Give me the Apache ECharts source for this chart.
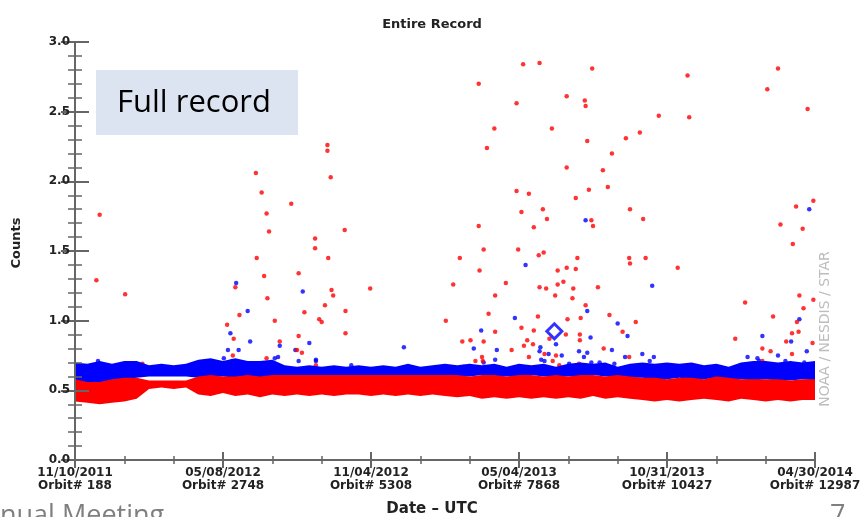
<!DOCTYPE html>
<html>
<head>
<meta charset="utf-8">
<title>Entire Record</title>
<script src="https://cdn.jsdelivr.net/npm/echarts@6/dist/echarts.min.js"></script>
<style>
  html, body { margin: 0; padding: 0; background: #fff; }
  #chart { width: 860px; height: 517px; }
</style>
</head>
<body>
<div id="chart"></div>
<script>
// x = days since 11/10/2011, ticks every 180 days
const tickDates = ["11/10/2011", "05/08/2012", "11/04/2012", "05/04/2013", "10/31/2013", "04/30/2014"];
const tickOrbits = ["188", "2748", "5308", "7868", "10427", "12987"];

// dense bands (edges read every 15 days)
const bandDays = [0, 15, 30, 45, 60, 75, 90, 105, 120, 135, 150, 165, 180, 195, 210, 225, 240, 255, 270, 285,
  300, 315, 330, 345, 360, 375, 390, 405, 420, 435, 450, 465, 480, 495, 510, 525, 540, 555, 570, 585,
  600, 615, 630, 645, 660, 675, 690, 705, 720, 735, 750, 765, 780, 795, 810, 825, 840, 855, 870, 885, 900];
const blueTop = [0.70, 0.69, 0.71, 0.69, 0.71, 0.71, 0.68, 0.69, 0.68, 0.69, 0.72, 0.73, 0.71, 0.73, 0.71, 0.71, 0.72, 0.68, 0.67, 0.68,
  0.67, 0.68, 0.67, 0.68, 0.67, 0.68, 0.67, 0.69, 0.67, 0.68, 0.69, 0.68, 0.69, 0.68, 0.69, 0.67, 0.69, 0.68, 0.69, 0.67,
  0.69, 0.70, 0.69, 0.70, 0.67, 0.69, 0.70, 0.69, 0.70, 0.69, 0.70, 0.68, 0.69, 0.67, 0.70, 0.71, 0.71, 0.70, 0.71, 0.70, 0.71];
const blueBottom = [0.57, 0.55, 0.55, 0.57, 0.58, 0.59, 0.60, 0.60, 0.60, 0.60, 0.59, 0.60, 0.60, 0.59, 0.60, 0.59, 0.60, 0.61, 0.61, 0.60,
  0.61, 0.61, 0.60, 0.61, 0.61, 0.60, 0.61, 0.61, 0.60, 0.61, 0.60, 0.60, 0.60, 0.61, 0.60, 0.60, 0.60, 0.61, 0.60, 0.60,
  0.60, 0.60, 0.61, 0.60, 0.60, 0.59, 0.59, 0.58, 0.58, 0.59, 0.58, 0.58, 0.59, 0.58, 0.58, 0.57, 0.58, 0.57, 0.57, 0.58, 0.57];
const redTop = [0.58, 0.56, 0.56, 0.58, 0.59, 0.59, 0.57, 0.57, 0.57, 0.57, 0.60, 0.61, 0.60, 0.60, 0.61, 0.60, 0.61, 0.61, 0.61, 0.61,
  0.61, 0.61, 0.61, 0.61, 0.61, 0.61, 0.61, 0.61, 0.61, 0.61, 0.61, 0.61, 0.60, 0.61, 0.61, 0.60, 0.61, 0.61, 0.60, 0.61,
  0.60, 0.61, 0.61, 0.60, 0.61, 0.60, 0.59, 0.59, 0.58, 0.59, 0.59, 0.58, 0.60, 0.59, 0.58, 0.58, 0.58, 0.58, 0.57, 0.58, 0.58];
const redBottom = [0.42, 0.41, 0.40, 0.41, 0.42, 0.44, 0.51, 0.52, 0.51, 0.52, 0.47, 0.46, 0.48, 0.46, 0.47, 0.45, 0.47, 0.46, 0.47, 0.46,
  0.47, 0.46, 0.47, 0.47, 0.46, 0.47, 0.46, 0.47, 0.46, 0.47, 0.46, 0.45, 0.46, 0.44, 0.45, 0.44, 0.45, 0.44, 0.45, 0.44,
  0.45, 0.44, 0.46, 0.44, 0.45, 0.44, 0.43, 0.42, 0.43, 0.42, 0.43, 0.44, 0.43, 0.42, 0.44, 0.43, 0.42, 0.43, 0.42, 0.43, 0.43];

// scattered outliers [day, counts]
const redPoints = [
  [30, 1.76], [220, 2.06], [227, 1.92], [263, 1.84], [233, 1.77], [236, 1.64], [307, 2.26], [307, 2.22], [311, 2.03],
  [292, 1.59], [292, 1.52], [328, 1.65], [221, 1.45], [308, 1.45],
  [491, 2.70], [545, 2.84], [565, 2.85], [629, 2.81], [745, 2.76], [855, 2.81], [842, 2.66], [537, 2.56], [598, 2.61],
  [620, 2.58], [621, 2.54], [710, 2.47], [747, 2.46], [891, 2.52], [510, 2.38], [580, 2.38], [501, 2.24], [623, 2.29],
  [670, 2.31], [687, 2.35], [653, 2.20], [598, 2.10], [642, 2.08], [537, 1.93], [552, 1.91], [648, 1.96], [625, 1.94],
  [609, 1.88], [543, 1.78], [569, 1.80], [675, 1.80], [574, 1.73], [691, 1.73], [628, 1.72], [630, 1.68], [491, 1.68],
  [558, 1.67], [877, 1.82], [898, 1.86], [858, 1.69], [885, 1.66], [873, 1.55], [497, 1.51], [539, 1.51], [570, 1.49],
  [564, 1.47], [611, 1.45], [674, 1.45], [694, 1.45], [468, 1.45],
  [26, 1.29], [61, 1.19], [195, 1.24], [230, 1.32], [234, 1.16], [272, 1.34], [185, 0.97], [193, 0.87], [200, 1.04],
  [243, 1.00], [249, 0.85], [272, 0.89], [276, 0.77], [279, 1.06], [270, 0.79], [297, 1.01], [300, 0.99], [304, 1.11],
  [312, 1.22], [314, 1.18], [329, 1.07], [329, 0.91], [359, 1.23], [192, 0.75], [233, 0.73], [293, 0.68], [82, 0.69],
  [451, 1.00],
  [492, 1.36], [587, 1.36], [598, 1.38], [609, 1.37], [524, 1.27], [460, 1.26], [565, 1.24], [573, 1.23], [587, 1.26],
  [594, 1.28], [606, 1.23], [636, 1.24], [511, 1.18], [584, 1.18], [605, 1.16], [621, 1.11], [503, 1.05], [563, 1.03],
  [615, 1.02], [599, 1.01], [650, 1.04], [543, 0.95], [558, 0.93], [511, 0.92], [597, 0.90], [614, 0.90], [614, 0.86],
  [471, 0.85], [481, 0.86], [497, 0.85], [550, 0.86], [546, 0.82], [557, 0.83], [577, 0.87], [531, 0.79], [666, 0.92],
  [643, 0.80], [495, 0.74], [487, 0.71], [496, 0.71], [552, 0.74], [571, 0.76], [585, 0.75], [581, 0.71], [589, 0.68],
  [553, 0.66], [613, 0.69],
  [733, 1.38], [682, 0.99], [674, 0.74], [675, 1.41], [815, 1.13], [803, 0.87], [849, 1.03], [836, 0.80], [846, 0.78],
  [836, 0.71], [881, 1.18], [886, 1.09], [898, 1.15], [878, 0.99], [872, 0.91], [880, 0.92], [865, 0.85], [872, 0.76],
  [897, 0.84]
];
const bluePoints = [
  [621, 1.72], [893, 1.80], [28, 0.71], [196, 1.27], [210, 1.07], [213, 0.85], [189, 0.91], [186, 0.79], [199, 0.79],
  [181, 0.73], [191, 0.71], [277, 1.21], [249, 0.82], [247, 0.74], [243, 0.73], [268, 0.79], [285, 0.84], [293, 0.72],
  [293, 0.71], [272, 0.71], [400, 0.81], [336, 0.68],
  [548, 1.40], [535, 1.02], [623, 1.07], [660, 0.98], [494, 0.93], [672, 0.89], [627, 0.88], [585, 0.83], [485, 0.80],
  [513, 0.79], [566, 0.81], [565, 0.78], [613, 0.78], [623, 0.77], [653, 0.79], [669, 0.74], [592, 0.75], [576, 0.76],
  [619, 0.74], [511, 0.72], [567, 0.72], [571, 0.71], [601, 0.69], [628, 0.70], [638, 0.70], [656, 0.69], [473, 0.67],
  [497, 0.70],
  [702, 1.25], [690, 0.76], [699, 0.71], [704, 0.74], [818, 0.74], [830, 0.73], [832, 0.71], [836, 0.89], [855, 0.75],
  [864, 0.71], [871, 0.85], [881, 1.01], [890, 0.78], [887, 0.70]
];
const markedPoint = [[583, 0.924]];

const chart = echarts.init(document.getElementById("chart"));

const AX = "#666";
const labelFont = { fontFamily: "DejaVu Sans", fontWeight: "bold", fontSize: 12, color: "#222" };

// each band edge is an area filled down to the axis; later layers paint over earlier ones
const edge = (vals) => bandDays.map((d, i) => [d, vals[i]]);
const layer = (vals, color) => ({
  type: "line", data: edge(vals), symbol: "none", silent: true,
  lineStyle: { width: 0, opacity: 0 },
  areaStyle: { color: color, opacity: 1, origin: "start" }
});

const xAxisBase = {
  type: "value", min: 0, max: 900, interval: 180, z: 10,
  axisLine: { lineStyle: { color: AX, width: 2 } },
  axisTick: { inside: true, length: 8, lineStyle: { color: AX, width: 2 } },
  minorTick: { show: true, splitNumber: 3, length: 4, lineStyle: { color: AX, width: 1.5 } },
  splitLine: { show: false },
  minorSplitLine: { show: false }
};
const yAxisBase = {
  type: "value", min: 0, max: 3, interval: 0.5, z: 10,
  axisLine: { show: true, lineStyle: { color: AX, width: 2 } },
  axisTick: { show: true, inside: true, length: 14, lineStyle: { color: AX, width: 2 } },
  minorTick: { show: true, splitNumber: 5, length: 7, lineStyle: { color: AX, width: 1.5 } },
  splitLine: { show: false },
  minorSplitLine: { show: false }
};

chart.setOption({
  animation: false,
  backgroundColor: "#fff",
  grid: { left: 75, right: 45, top: 42, bottom: 57, containLabel: false, outerBoundsMode: "none" },
  xAxis: [
    Object.assign({}, xAxisBase, {
      position: "bottom",
      axisLabel: Object.assign({}, labelFont, {
        margin: 6, lineHeight: 13,
        formatter: (v) => {
          const i = Math.round(v / 180);
          return tickDates[i] + "\nOrbit# " + tickOrbits[i];
        }
      })
    }),
    Object.assign({}, xAxisBase, { position: "top", axisLabel: { show: false } })
  ],
  yAxis: [
    Object.assign({}, yAxisBase, {
      position: "left",
      axisLabel: Object.assign({}, labelFont, { margin: 5, formatter: (v) => v.toFixed(1) })
    }),
    Object.assign({}, yAxisBase, { position: "right", axisLabel: { show: false } })
  ],
  series: [
    layer(blueTop, "#0000ff"),
    layer(blueBottom, "#ffffff"),
    layer(redTop, "#ff0000"),
    layer(redBottom, "#ffffff"),
    { type: "scatter", data: bluePoints, symbolSize: 4.5, itemStyle: { color: "#0000ff" } },
    { type: "scatter", data: redPoints, symbolSize: 4.5, itemStyle: { color: "#ff0000" } },
    { type: "scatter", data: markedPoint, symbol: "diamond", symbolSize: 15,
      itemStyle: { color: "#ffffff", borderColor: "#0000ff", borderWidth: 3 } }
  ],
  graphic: [
    { type: "text", x: 432, y: 25, style: { text: "Entire Record", font: 'bold 13px "DejaVu Sans"', fill: "#222", align: "center", verticalAlign: "middle" } },
    { type: "text", x: 432, y: 509, style: { text: "Date – UTC", font: 'bold 15px "DejaVu Sans"', fill: "#222", align: "center", verticalAlign: "middle" } },
    { type: "text", x: 17, y: 243, rotation: Math.PI / 2, style: { text: "Counts", font: 'bold 13px "DejaVu Sans"', fill: "#222", align: "center", verticalAlign: "middle" } },
    { type: "text", x: 825, y: 329, rotation: Math.PI / 2, style: { text: "NOAA / NESDIS / STAR", font: '14px "DejaVu Sans"', fill: "#bdbdbd", align: "center", verticalAlign: "middle" } },
    { type: "rect", shape: { x: 96, y: 70, width: 202, height: 65 }, style: { fill: "#dbe4f0" }, z: 100 },
    { type: "text", x: 117, y: 103, z: 101, style: { text: "Full record", font: '31px "Open Sans"', fill: "#000", align: "left", verticalAlign: "middle" } },
    { type: "text", x: 0, y: 503, style: { text: "nual Meeting", font: '27px "Open Sans"', fill: "#7f7f7f", align: "left", verticalAlign: "top" } },
    { type: "text", x: 830, y: 503, style: { text: "7", font: '27px "Open Sans"', fill: "#7f7f7f", align: "left", verticalAlign: "top" } }
  ]
});
</script>
</body>
</html>
